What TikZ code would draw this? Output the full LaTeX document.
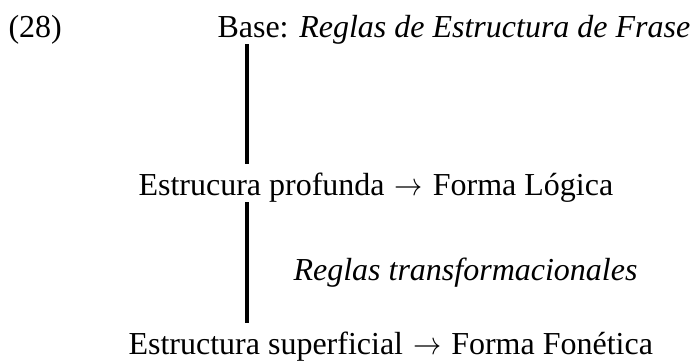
\documentclass[tikz,border=0pt]{standalone}
\usepackage{fontspec}
\usepackage{graphicx}
\setmainfont{Liberation Serif}
\newcommand\rarr{\kern0.75pt\scalebox{0.88}[1]{$\rightarrow$}\kern0.75pt}
\begin{document}
\begin{tikzpicture}[x=0.375pt,y=-0.375pt,font=\fontsize{12}{14}\selectfont,
    txt/.style={anchor=base west,inner sep=0pt},
    bar/.style={line width=1.7pt}]
    \useasboundingbox (0,0) rectangle (693,360);
    \node[txt] (0) at (8,37) {(28)};
    \node[txt] (1) at (217,37) {Base: \textit{Reglas de Estructura de Frase}};
    \node[txt] (2) at (138,195) {Estrucura profunda \rarr{} Forma Lógica};
    \node[txt] (3) at (293,280) {\textit{Reglas transformacionales}};
    \node[txt] (4) at (128,354) {Estructura superficial \rarr{} Forma Fonética};
    \coordinate (s) at (247,0);
    \draw[bar,shorten >=3pt] (s |- 1.south) -- (s |- 2.north);
    \draw[bar,shorten >=3pt] (s |- 2.south) -- (s |- 4.north);
    \end{tikzpicture}
\end{document}
